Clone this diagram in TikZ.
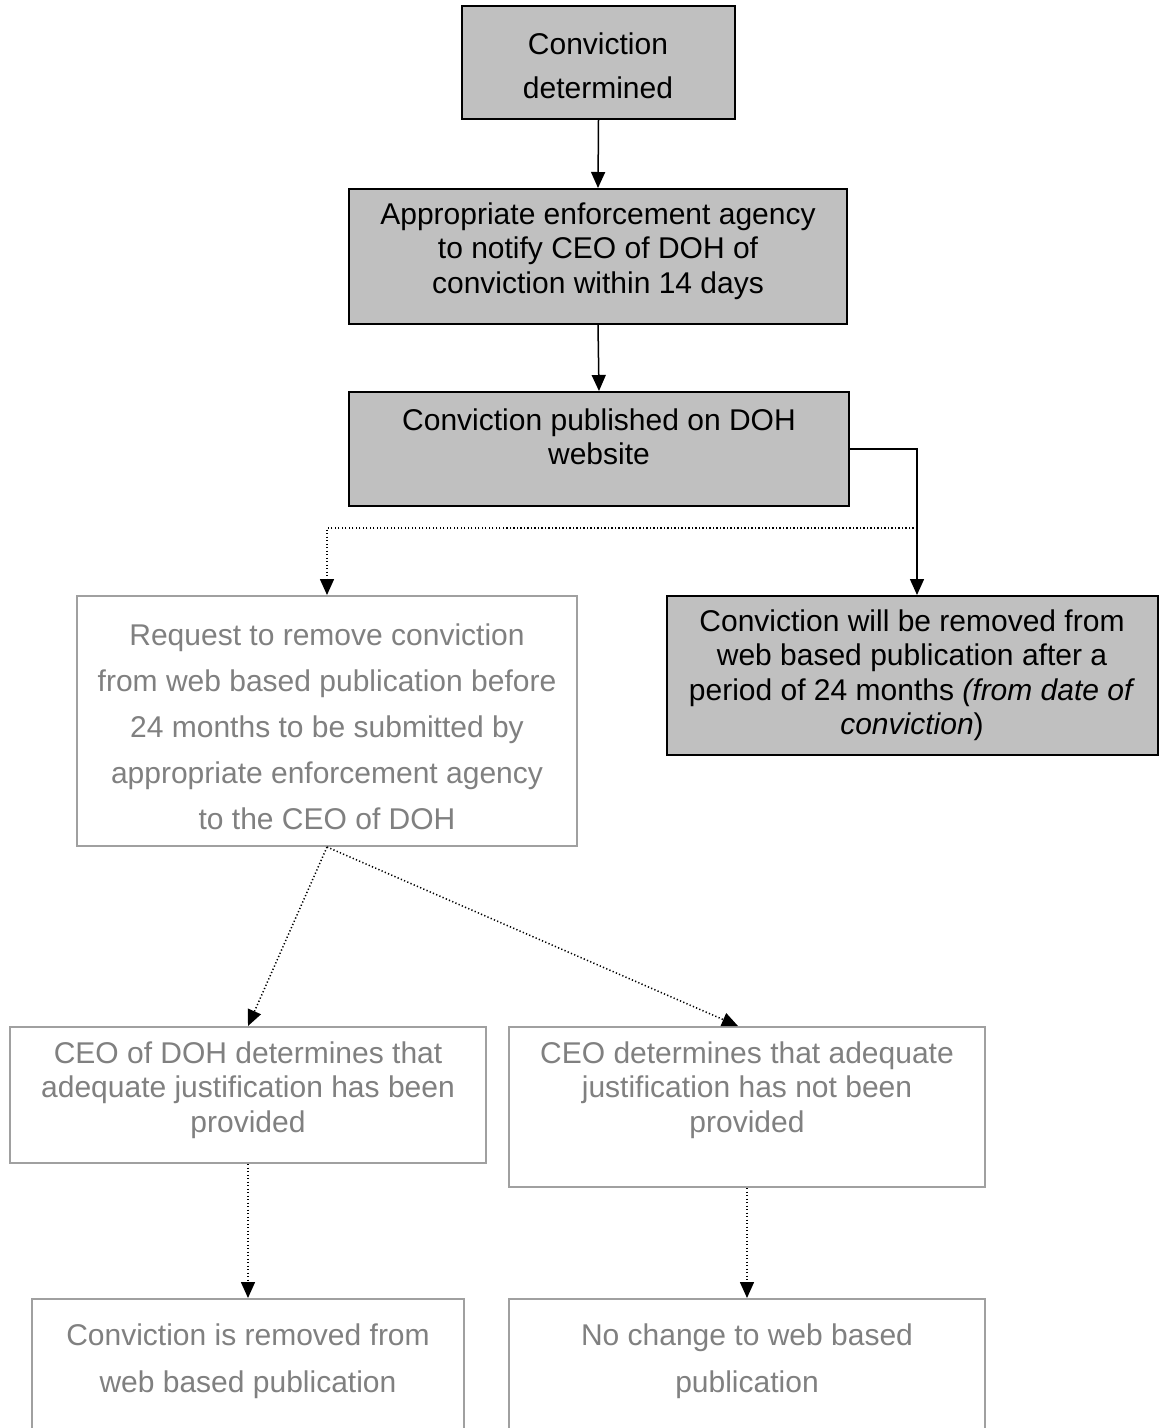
\documentclass[tikz,border=0pt]{standalone}
\usepackage{fontspec}
\setmainfont{Liberation Sans}
\usetikzlibrary{arrows.meta,calc}
\definecolor{boxfill}{HTML}{C0C0C0}
\definecolor{softtext}{HTML}{808080}
\definecolor{softline}{HTML}{A0A0A0}
\begin{document}
\begin{tikzpicture}[x=0.4pt,y=-0.4pt,
  darkbox/.style={draw=black,line width=0.8pt,fill=boxfill,rectangle,inner sep=0pt},
  lightbox/.style={draw=softline,line width=0.8pt,fill=white,rectangle,inner sep=0pt},
  darktext/.style={align=center,inner sep=0pt,text=black},
  lighttext/.style={align=center,inner sep=0pt,text=softtext},
  solidarrow/.style={draw=black,line width=0.6pt,-{Triangle[length=6.4pt,width=5.6pt]}},
  dotarrow/.style={draw=black,line width=0.6pt,dash pattern=on 0.5pt off 0.9pt,-{Triangle[length=6.4pt,width=5.6pt]}},
  dotline/.style={draw=black,line width=0.6pt,dash pattern=on 0.5pt off 0.9pt}]
\useasboundingbox (0,0) rectangle (1159,1428);
\fill[white] (0,0) rectangle (1159,1428);
% boxes
\node[darkbox,minimum width=273*0.4pt,minimum height=113*0.4pt] (b1) at (598.5,62.5) {};
\node[darkbox,minimum width=498*0.4pt,minimum height=135*0.4pt] (b2) at (598,256.5) {};
\node[darkbox,minimum width=500*0.4pt,minimum height=114*0.4pt] (b3) at (599,449) {};
\node[lightbox,minimum width=500*0.4pt,minimum height=250*0.4pt] (b4) at (327,721) {};
\node[darkbox,minimum width=491*0.4pt,minimum height=159*0.4pt] (b5) at (912.5,675.5) {};
\node[lightbox,minimum width=476*0.4pt,minimum height=136*0.4pt] (b6) at (248,1095) {};
\node[lightbox,minimum width=476*0.4pt,minimum height=160*0.4pt] (b7) at (747,1107) {};
\node[lightbox,minimum width=432*0.4pt,minimum height=160*0.4pt] (b8) at (248,1379) {};
\node[lightbox,minimum width=476*0.4pt,minimum height=160*0.4pt] (b9) at (747,1379) {};
% texts
\node[darktext,font=\fontsize{12}{17.6}\selectfont] (t1) at (598,66) {Conviction\\determined};
\node[darktext,font=\fontsize{12}{13.8}\selectfont] (t2) at (598,251) {Appropriate enforcement agency\\to notify CEO of DOH of\\conviction within 14 days};
\node[darktext,font=\fontsize{12}{13.8}\selectfont] (t3) at (599,437) {Conviction published on DOH\\website};
\node[lighttext,font=\fontsize{12}{18.4}\selectfont] (t4) at (327,727) {Request to remove conviction\\from web based publication before\\24 months to be submitted by\\appropriate enforcement agency\\to the CEO of DOH};
\node[darktext,font=\fontsize{12}{13.8}\selectfont] (t5) at (912,675) {Conviction will be removed from\\web based publication after a\\period of 24 months \textit{(from date of}\\\textit{conviction})};
\node[lighttext,font=\fontsize{12}{13.8}\selectfont] (t6) at (248,1090) {CEO of DOH determines that\\adequate justification has been\\provided};
\node[lighttext,font=\fontsize{12}{13.8}\selectfont] (t7) at (747,1090) {CEO determines that adequate\\justification has not been\\provided};
\node[lighttext,font=\fontsize{12}{18.8}\selectfont] (t8) at (248,1361) {Conviction is removed from\\web based publication};
\node[lighttext,font=\fontsize{12}{18.8}\selectfont] (t9) at (747,1361) {No change to web based\\publication};
% connectors
\draw[solidarrow] (b1.south) -- (b2.north);
\draw[solidarrow] (b2.south) -- (b3.north);
\coordinate (r5) at ($(b5.north)+(4.5,0)$);
\draw[solidarrow] (b3.east) -| (r5);
\coordinate (j) at (917,528);
\draw[dotarrow] (j) -| (b4.north);
\draw[dotarrow] (b4.south) -- (b6.north);
\coordinate (l7) at ($(b7.north)+(-9,0)$);
\draw[dotarrow] (b4.south) -- (l7);
\draw[dotarrow] (b6.south) -- (b8.north);
\draw[dotarrow] (b7.south) -- (b9.north);
\end{tikzpicture}
\end{document}
